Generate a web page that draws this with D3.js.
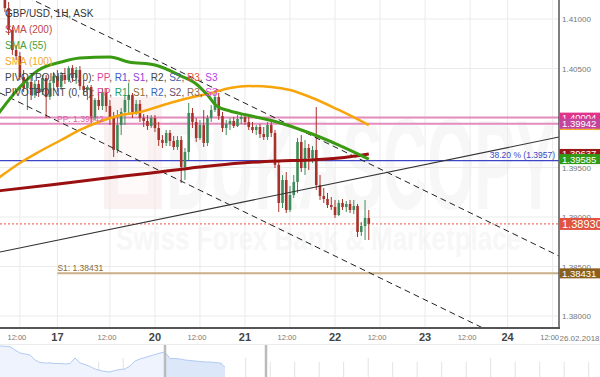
<!DOCTYPE html>
<html>
<head>
<meta charset="utf-8">
<script src="https://d3js.org/d3.v7.min.js"></script>
<style>
  body { margin: 0; background: #fff; font-family: "Liberation Sans", Arial, sans-serif; }
  svg { display: block; }
</style>
</head>
<body>
<script>
var width = 600, height = 377;
var plotW = 559, plotH = 328;

// 1H candles, GBP/USD
var opens = [1.41293,1.41111,1.40889,1.40687,1.40626,1.40414,1.40303,1.40364,1.40232,1.40344,
  1.40263,1.40404,1.40212,1.40354,1.40424,1.40313,1.40434,1.40384,1.40505,1.40404,
  1.40485,1.40323,1.40283,1.40313,1.40000,1.40182,1.40121,1.40263,1.40121,1.40000,
  1.39677,1.39929,1.40061,1.40182,1.40232,1.40061,1.40142,1.40000,1.39970,1.39919,
  1.40000,1.39899,1.39778,1.39748,1.39849,1.39768,1.39707,1.39778,1.39505,1.39657,
  1.40051,1.39960,1.39798,1.39929,1.39748,1.40000,1.40081,1.40212,1.40020,1.39899,
  1.39940,1.39970,1.39919,1.39990,1.40010,1.39960,1.39909,1.39879,1.39909,1.39838,
  1.39808,1.39929,1.39849,1.39527,1.39142,1.39374,1.39071,1.39222,1.39354,1.39758,
  1.39495,1.39697,1.39596,1.39677,1.39323,1.39212,1.39182,1.39121,1.39101,1.39020,
  1.39142,1.39101,1.39132,1.39071,1.39111,1.38849,1.38909,1.38990];
var highs = [1.41344,1.41172,1.40919,1.40737,1.40667,1.40485,1.40384,1.40404,1.40384,1.40384,
  1.40434,1.40434,1.40384,1.40465,1.40485,1.40465,1.40505,1.40525,1.40535,1.40515,
  1.40525,1.40384,1.40333,1.40333,1.40202,1.40263,1.40303,1.40303,1.40182,1.40061,
  1.40081,1.40101,1.40232,1.40354,1.40253,1.40182,1.40182,1.40041,1.40030,1.40030,
  1.40030,1.39960,1.39828,1.39879,1.39879,1.39818,1.39818,1.39818,1.39697,1.40152,
  1.40101,1.40000,1.39980,1.40081,1.40030,1.40131,1.40283,1.40253,1.40061,1.39980,
  1.40000,1.40010,1.40030,1.40041,1.40051,1.40010,1.39960,1.39929,1.39940,1.39909,
  1.39960,1.39980,1.39879,1.39576,1.39424,1.39455,1.39313,1.39424,1.39798,1.39828,
  1.39778,1.39738,1.39717,1.40111,1.39424,1.39293,1.39243,1.39202,1.39172,1.39172,
  1.39182,1.39162,1.39172,1.39172,1.39132,1.38950,1.39172,1.39071];
var lows = [1.41071,1.40839,1.40637,1.40586,1.40384,1.40263,1.40081,1.40182,1.40202,1.40212,
  1.40232,1.40000,1.40182,1.40283,1.40263,1.40283,1.40344,1.40364,1.40364,1.40344,
  1.40283,1.40232,1.40182,1.39950,1.39980,1.40081,1.40081,1.40061,1.39929,1.39606,
  1.39647,1.39828,1.39929,1.40030,1.40000,1.40030,1.39960,1.39909,1.39879,1.39899,
  1.39859,1.39717,1.39697,1.39717,1.39717,1.39677,1.39677,1.39344,1.39374,1.39576,
  1.39899,1.39758,1.39778,1.39707,1.39717,1.39960,1.40061,1.39980,1.39859,1.39828,
  1.39879,1.39899,1.39909,1.39940,1.39929,1.39879,1.39849,1.39828,1.39798,1.39778,
  1.39778,1.39808,1.39495,1.39051,1.39091,1.39041,1.39051,1.39192,1.39243,1.39455,
  1.39424,1.39475,1.39546,1.39273,1.39172,1.39142,1.39091,1.39071,1.38990,1.39010,
  1.39071,1.39051,1.39041,1.39031,1.38798,1.38808,1.38768,1.38768];
var closes = [1.41111,1.40889,1.40687,1.40626,1.40414,1.40303,1.40364,1.40232,1.40344,1.40263,
  1.40404,1.40212,1.40354,1.40424,1.40313,1.40434,1.40384,1.40505,1.40404,1.40485,
  1.40323,1.40283,1.40313,1.40000,1.40182,1.40121,1.40263,1.40121,1.40000,1.39677,
  1.39929,1.40061,1.40182,1.40232,1.40061,1.40142,1.40000,1.39970,1.39919,1.40000,
  1.39899,1.39778,1.39748,1.39849,1.39768,1.39707,1.39778,1.39505,1.39657,1.40051,
  1.39960,1.39798,1.39929,1.39748,1.40000,1.40081,1.40212,1.40020,1.39899,1.39940,
  1.39970,1.39919,1.39990,1.40010,1.39960,1.39909,1.39879,1.39909,1.39838,1.39808,
  1.39929,1.39849,1.39527,1.39142,1.39374,1.39071,1.39222,1.39354,1.39758,1.39495,
  1.39697,1.39596,1.39677,1.39323,1.39212,1.39182,1.39121,1.39101,1.39020,1.39142,
  1.39101,1.39132,1.39071,1.39111,1.38849,1.38909,1.38990,1.38930];

// moving averages (bar index, value)
var sma200Idx = [-2, 12, 25, 39, 52, 63, 73, 81, 89, 97];
var sma200Val = [1.39263, 1.39323, 1.39384, 1.39445, 1.39505, 1.39546, 1.39566, 1.39576, 1.39596, 1.39637];
var sma55Idx = [-2, 4, 9, 15, 20, 28, 33, 40, 47, 51, 54, 56.5, 60, 64.5, 72.5, 80.5, 89, 97];
var sma55Val = [1.40030, 1.40313, 1.40485, 1.40566, 1.40606, 1.40616, 1.40566, 1.40535, 1.40424, 1.40344, 1.40232, 1.40121, 1.40071, 1.40030, 1.39960, 1.39859, 1.39727, 1.39585];
var sma100Idx = [-2, 4, 9, 15, 20, 25, 31, 36, 44, 49, 55, 60, 65, 71, 76, 82, 89, 97];
var sma100Val = [1.39386, 1.39546, 1.39657, 1.39778, 1.39879, 1.39960, 1.40030, 1.40061, 1.40152, 1.40202, 1.40253, 1.40303, 1.40323, 1.40313, 1.40283, 1.40202, 1.40081, 1.39929];

// drawn lines (bar index, price)
var channelUpper = [[-1.3, 1.41354], [147.7, 1.38606]];
var channelLower = [[-1.3, 1.40253], [147.7, 1.37505]];
var trendLine = [[-1.3, 1.38646], [147.7, 1.39808]];

// levels
var pivotPP = [1.40004, 1.39942];
var fib382 = 1.3957;
var lastPrice = 1.38930;
var s1 = 1.38431, s1Start = 14;

// axes
var priceTicks = [1.380, 1.385, 1.390, 1.395, 1.400, 1.405, 1.410];
var tickIdx = [4, 14, 28, 40, 52, 64, 76, 88, 100, 112, 124, 134, 146];
var tickLabels = ["12:00", "17", "12:00", "20", "12:00", "21", "12:00", "22", "12:00", "23", "12:00", "24", "12:00"];
var dateLabel = "26.02.2018";

// navigator series (every step = 5px), handles
var navValues = [1.42697, 1.42652, 1.42591, 1.42091, 1.41636, 1.41485, 1.41333, 1.40576, 1.40197, 1.40121,
  1.40121, 1.40045, 1.40045, 1.39970, 1.40045, 1.40879, 1.40121, 1.39894, 1.39591, 1.39212,
  1.38985, 1.38833, 1.38758, 1.38985, 1.39136, 1.39212, 1.39667, 1.40424, 1.40727, 1.40955,
  1.41182, 1.41409, 1.41636, 1.41788, 1.40803, 1.40803, 1.40727, 1.40576, 1.40500, 1.40424,
  1.40348, 1.40273, 1.40273, 1.40197, 1.40121, 1.39515];
var navHandles = [33, 53.2];

var svg = d3.select("body").append("svg")
  .attr("width", width)
  .attr("height", height);

var x = d3.scaleLinear().domain([-1.3, 147.7]).range([0, plotW]);
var y = d3.scaleLinear().domain([1.37879, 1.41192]).range([plotH, 0]);

svg.append("defs").append("clipPath").attr("id", "plotclip")
  .append("rect").attr("width", plotW).attr("height", plotH);

var plot = svg.append("g").attr("clip-path", "url(#plotclip)");

// watermark
plot.append("rect").attr("x", 104).attr("y", 97).attr("width", 58).attr("height", 112)
  .attr("fill", "#fcf1f1");
plot.append("rect").attr("x", 118).attr("y", 112).attr("width", 30).attr("height", 82)
  .attr("fill", "#fffafa");
plot.append("text").attr("x", 166).attr("y", 209)
  .attr("font-size", 128).attr("font-weight", "bold")
  .attr("textLength", 390).attr("lengthAdjust", "spacingAndGlyphs")
  .attr("fill", "#f7f7f7").text("DUKASCOPY");
plot.append("text").attr("x", 116).attr("y", 250)
  .attr("font-size", 34).attr("font-weight", "bold")
  .attr("textLength", 405).attr("lengthAdjust", "spacingAndGlyphs")
  .attr("fill", "#f7f7f7").text("Swiss Forex Bank & Marketplace");

// grid
plot.selectAll(".hgrid").data(priceTicks).enter().append("line")
  .attr("x1", 0).attr("x2", plotW)
  .attr("y1", function(d) { return y(d); }).attr("y2", function(d) { return y(d); })
  .attr("stroke", "#ebebeb");
plot.selectAll(".vgrid").data(tickIdx).enter().append("line")
  .attr("y1", 0).attr("y2", plotH)
  .attr("x1", function(d) { return x(d); }).attr("x2", function(d) { return x(d); })
  .attr("stroke", "#ebebeb");

// horizontal levels
plot.selectAll(".pp").data(pivotPP).enter().append("line")
  .attr("x1", 0).attr("x2", plotW)
  .attr("y1", function(d) { return y(d); }).attr("y2", function(d) { return y(d); })
  .attr("stroke", "#e58cbf").attr("stroke-width", 2);
plot.append("line").attr("x1", 0).attr("x2", plotW)
  .attr("y1", y(fib382)).attr("y2", y(fib382))
  .attr("stroke", "#3b45c6").attr("stroke-width", 1.2);
plot.append("line").attr("x1", 0).attr("x2", plotW)
  .attr("y1", y(lastPrice)).attr("y2", y(lastPrice))
  .attr("stroke", "#f07464").attr("stroke-width", 1.2).attr("stroke-dasharray", "2,2");
plot.append("line").attr("x1", x(s1Start)).attr("x2", plotW)
  .attr("y1", y(s1)).attr("y2", y(s1))
  .attr("stroke", "#c9ae86").attr("stroke-width", 2);

// candles
var idx = d3.range(opens.length);
var bw = 2.6;
var candle = plot.selectAll(".candle").data(idx).enter().append("g")
  .attr("fill", function(i) { return closes[i] >= opens[i] ? "#3f8c5a" : "#a8322a"; })
  .attr("stroke", function(i) { return closes[i] >= opens[i] ? "#3f8c5a" : "#a8322a"; });
candle.append("line")
  .attr("x1", function(i) { return x(i); }).attr("x2", function(i) { return x(i); })
  .attr("y1", function(i) { return y(highs[i]); }).attr("y2", function(i) { return y(lows[i]); })
  .attr("stroke-width", 1);
candle.append("rect")
  .attr("stroke", "none")
  .attr("x", function(i) { return x(i) - bw / 2; })
  .attr("width", bw)
  .attr("y", function(i) { return y(Math.max(opens[i], closes[i])); })
  .attr("height", function(i) { return Math.max(1, Math.abs(y(opens[i]) - y(closes[i]))); });

// trend / channel lines
var seg = d3.line().x(function(d) { return x(d[0]); }).y(function(d) { return y(d[1]); });
plot.append("path").attr("d", seg(channelUpper)).attr("fill", "none")
  .attr("stroke", "#222").attr("stroke-dasharray", "6,4");
plot.append("path").attr("d", seg(channelLower)).attr("fill", "none")
  .attr("stroke", "#222").attr("stroke-dasharray", "6,4");
plot.append("path").attr("d", seg(trendLine)).attr("fill", "none")
  .attr("stroke", "#333").attr("stroke-width", 1.1);

// moving averages
var smaLine = d3.line().curve(d3.curveMonotoneX)
  .x(function(d) { return x(d[0]); }).y(function(d) { return y(d[1]); });
function pairs(a, b) { return a.map(function(v, k) { return [v, b[k]]; }); }
plot.append("path").attr("d", smaLine(pairs(sma100Idx, sma100Val))).attr("fill", "none")
  .attr("stroke", "#f7a50a").attr("stroke-width", 2.5);
plot.append("path").attr("d", smaLine(pairs(sma200Idx, sma200Val))).attr("fill", "none")
  .attr("stroke", "#9a1010").attr("stroke-width", 3);
plot.append("path").attr("d", smaLine(pairs(sma55Idx, sma55Val))).attr("fill", "none")
  .attr("stroke", "#3a9a12").attr("stroke-width", 3);

// level labels
plot.append("text").attr("x", 57).attr("y", y(pivotPP[1]) - 1.5)
  .attr("font-size", 8.5).attr("fill", "#e062a6").text("PP: " + pivotPP[1].toFixed(5));
plot.append("text").attr("x", 555).attr("y", y(fib382) - 3).attr("text-anchor", "end")
  .attr("font-size", 8.5).attr("fill", "#3b45c6").text("38.20 % (" + fib382 + ")");
plot.append("text").attr("x", x(s1Start)).attr("y", y(s1) - 2.5)
  .attr("font-size", 8.5).attr("fill", "#8b6a30").text("S1: " + s1.toFixed(5));

// legend
var legend = svg.append("g").attr("font-size", 10);
legend.append("text").attr("x", 5).attr("y", 16.5).attr("fill", "#333").text("GBP/USD, 1H, ASK");
legend.append("text").attr("x", 5).attr("y", 33).attr("fill", "#c04646").text("SMA (200)");
legend.append("text").attr("x", 5).attr("y", 49).attr("fill", "#4aa030").text("SMA (55)");
legend.append("text").attr("x", 5).attr("y", 65).attr("fill", "#f5a623").text("SMA (100)");
var piv1 = ["PP", "R1", "S1", "R2", "S2", "R3", "S3"];
var piv1Colors = ["#e23f98", "#3f5bd0", "#9340d4", "#444444", "#4a5fa8", "#e0523e", "#b040e0"];
var piv2Colors = ["#e23f98", "#22a062", "#8b6d2e", "#3a5fc0", "#6a4a6a", "#8a6a50", "#e040d8"];
function pivotRow(label, colors, yy) {
  var t = legend.append("text").attr("x", 5).attr("y", yy).attr("fill", "#444");
  t.append("tspan").text(label);
  piv1.forEach(function(n, k) {
    t.append("tspan").attr("fill", colors[k]).text(n);
    if (k < piv1.length - 1) t.append("tspan").text(", ");
  });
}
pivotRow("PIVOTPOINT (0, 0): ", piv1Colors, 81);
pivotRow("PIVOTPOINT (0, 8): ", piv2Colors, 95.5);

// frame
svg.append("line").attr("x1", 0).attr("x2", plotW + 1).attr("y1", plotH).attr("y2", plotH)
  .attr("stroke", "#555").attr("stroke-width", 2);
svg.append("line").attr("x1", plotW).attr("x2", plotW).attr("y1", 0).attr("y2", plotH)
  .attr("stroke", "#555").attr("stroke-width", 1.5);

// price axis
svg.selectAll(".ptick").data(priceTicks).enter().append("text")
  .attr("x", 562).attr("y", function(d) { return y(d) + 3; })
  .attr("font-size", 8).attr("fill", "#777")
  .text(function(d) { return d.toFixed(5); });

// value boxes on the price axis
var boxes = [
  { v: sma100Val[sma100Val.length - 1], fill: "#f5a623", h: 10 },
  { v: pivotPP[0], fill: "#e0348a", h: 10 },
  { v: pivotPP[1], fill: "#c4449c", h: 10 },
  { v: sma200Val[sma200Val.length - 1], fill: "#9a1515", h: 10 },
  { v: sma55Val[sma55Val.length - 1], fill: "#2f9a14", h: 10 },
  { v: lastPrice, fill: "#e0533f", h: 12 },
  { v: s1, fill: "#8b5f1c", h: 10 }
];
var box = svg.selectAll(".vbox").data(boxes).enter().append("g");
box.append("rect").attr("x", plotW + 0.5).attr("width", width - plotW)
  .attr("y", function(d) { return y(d.v) - d.h / 2; })
  .attr("height", function(d) { return d.h; })
  .attr("fill", function(d) { return d.fill; });
box.append("text").attr("x", 562)
  .attr("y", function(d) { return y(d.v) + (d.h > 10 ? 4 : 3.5); })
  .attr("font-size", function(d) { return d.h > 10 ? 11 : 9.5; })
  .attr("fill", "#fff")
  .text(function(d) { return d.v.toFixed(5); });

// time axis
svg.selectAll(".xtick").data(tickIdx).enter().append("text")
  .attr("x", function(d, k) { return x(d) - (tickLabels[k] === "12:00" ? 3 : 0); })
  .attr("y", function(d, k) { return tickLabels[k] === "12:00" ? 340 : 341; })
  .attr("text-anchor", "middle")
  .attr("font-size", function(d, k) { return tickLabels[k] === "12:00" ? 7.5 : 11; })
  .attr("font-weight", function(d, k) { return tickLabels[k] === "12:00" ? "normal" : "bold"; })
  .attr("fill", function(d, k) { return tickLabels[k] === "12:00" ? "#777" : "#444"; })
  .text(function(d, k) { return tickLabels[k]; });
svg.append("rect").attr("x", plotW).attr("y", 331).attr("width", width - plotW).attr("height", 12)
  .attr("fill", "#fff");
svg.append("text").attr("x", plotW + 0.5).attr("y", 340.5)
  .attr("font-size", 8).attr("fill", "#777").text(dateLabel);

// navigator
var navX = d3.scaleLinear().domain([0, 120]).range([0, 600]);
var navY = d3.scaleLinear().domain([1.38, 1.43]).range([377, 344]);
var navDays = d3.scaleLinear().domain([0, 24]).range([0.7, 588.7]);
var nav = svg.append("g");
nav.append("line").attr("x1", 0).attr("x2", width).attr("y1", 344.5).attr("y2", 344.5)
  .attr("stroke", "#ececec");
nav.selectAll(".ntick").data(d3.range(0, 25)).enter().append("line")
  .attr("x1", function(d) { return navDays(d); }).attr("x2", function(d) { return navDays(d); })
  .attr("y1", function(d) { return d % 5 === 0 ? 358 : 362; }).attr("y2", height)
  .attr("stroke", "#e2e2e2");
var navArea = d3.area()
  .x(function(d, k) { return navX(k); })
  .y0(height).y1(function(d) { return navY(d); });
var navPts = navValues.map(function(v, k) { return { v: v, k: k }; });
nav.append("path").attr("d", navArea(navValues)).attr("fill", "#eef3fd");
var sel = navPts.filter(function(p) { return p.k >= navHandles[0]; });
nav.append("path")
  .attr("d", d3.area().x(function(p) { return navX(p.k); }).y0(height)
    .y1(function(p) { return navY(p.v); })(sel))
  .attr("fill", "#dde7fa");
nav.append("path")
  .attr("d", d3.line().x(function(d, k) { return navX(k); }).y(function(d) { return navY(d); })(navValues))
  .attr("fill", "none").attr("stroke", "#b3cbf3");
nav.selectAll(".handle").data(navHandles).enter().append("line")
  .attr("x1", function(d) { return navX(d); }).attr("x2", function(d) { return navX(d); })
  .attr("y1", 345).attr("y2", height)
  .attr("stroke", "#bbb").attr("stroke-width", 2.5);
</script>
</body>
</html>
